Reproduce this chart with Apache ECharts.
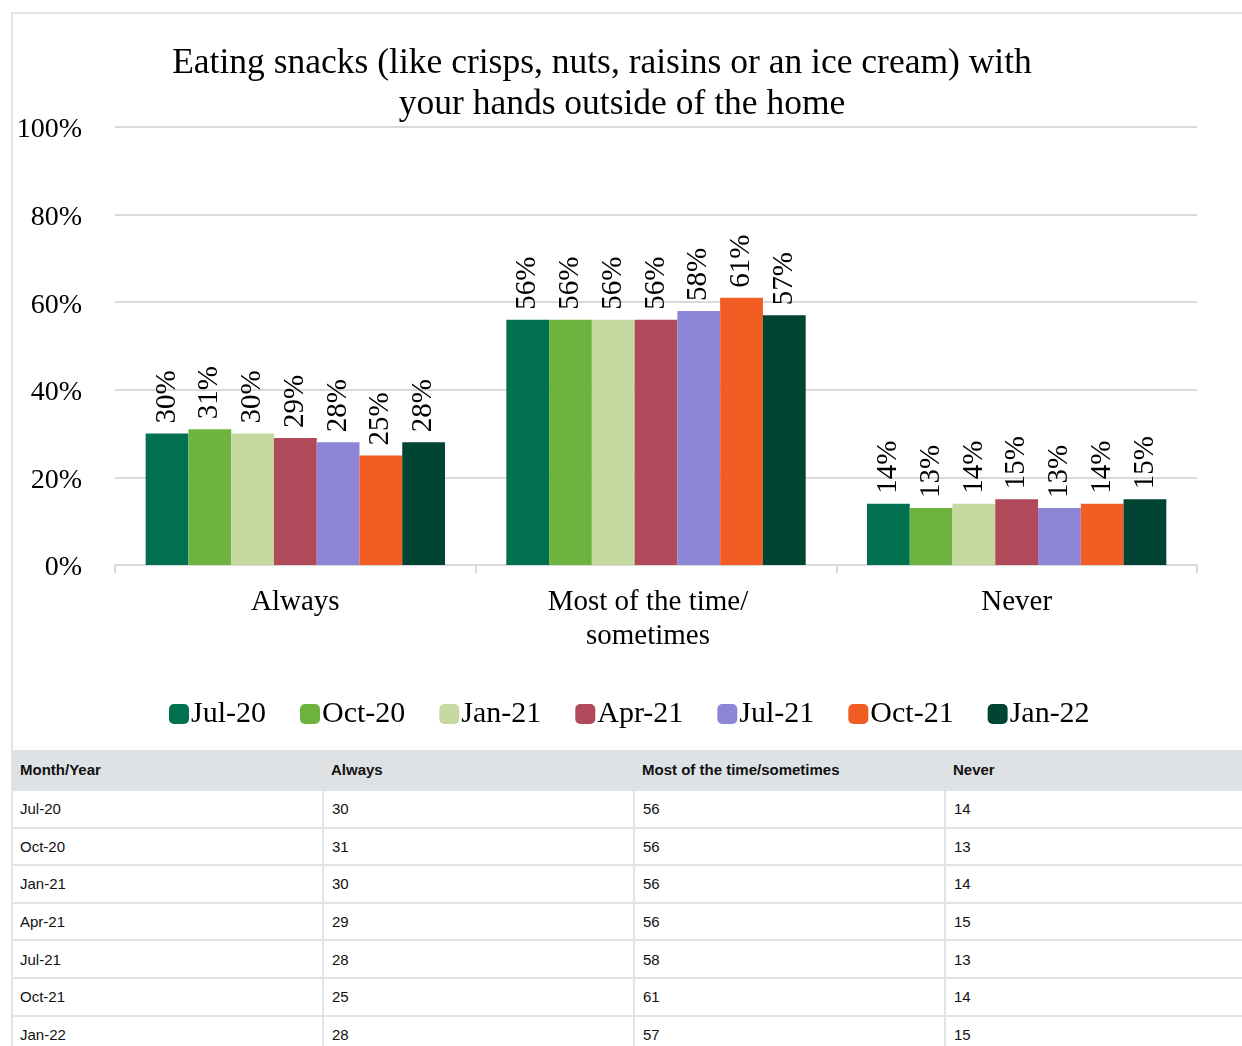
<!DOCTYPE html>
<html>
<head>
<meta charset="utf-8">
<script src="https://cdn.jsdelivr.net/npm/echarts@6/dist/echarts.min.js"></script>
<style>
  html, body { margin:0; padding:0; background:#fff; overflow:hidden; width:1242px; height:1046px; }
  #frame { position:absolute; left:11px; top:12px; width:1250px; height:1100px; border:2px solid #e3e3e3; box-sizing:border-box; }
  #chart { position:absolute; left:0; top:0; width:1242px; height:750px; }
  #tbl { position:absolute; left:12px; top:750px; border-collapse:collapse; table-layout:fixed; width:1244px;
         font-family:"Liberation Sans", Arial, sans-serif; font-size:15px; color:#111; }
  #tbl th { background:#dfe2e5; font-weight:bold; text-align:left; height:40px; padding:0 0 0 8px; box-sizing:border-box; }
  #tbl td { height:37.6px; padding:0 0 0 8px; box-sizing:border-box; border-top:2px solid #e1e4e7; border-left:2px solid #e1e4e7; }
  #tbl td:first-child { border-left:none; }
</style>
</head>
<body>
<div id="frame"></div>
<div id="chart"></div>
<table id="tbl"></table>
<script>
// ---- data ----
var categories = ["Always", "Most of the time/sometimes", "Never"];
var months = ["Jul-20", "Oct-20", "Jan-21", "Apr-21", "Jul-21", "Oct-21", "Jan-22"];
var jul20 = [30, 56, 14];
var oct20 = [31, 56, 13];
var jan21 = [30, 56, 14];
var apr21 = [29, 56, 15];
var jul21 = [28, 58, 13];
var oct21 = [25, 61, 14];
var jan22 = [28, 57, 15];
var yTicks = [0, 20, 40, 60, 80, 100];
var titleLine1 = "Eating snacks (like crisps, nuts, raisins or an ice cream) with";
var titleLine2 = "your hands outside of the home";
var tableHeader = ["Month/Year", "Always", "Most of the time/sometimes", "Never"];

var seriesValues = [jul20, oct20, jan21, apr21, jul21, oct21, jan22];
var colors = ["#007050", "#6db33f", "#c5d9a0", "#b0495a", "#8d86d6", "#f15d22", "#004433"];

var serif = '"Liberation Serif", "Times New Roman", serif';

var chart = echarts.init(document.getElementById('chart'), null, {renderer:'canvas'});
var series = months.map(function(m, i){
  return {
    name: m, type: 'bar', data: seriesValues[i],
    barGap: '0%', barCategoryGap: '17%',
    itemStyle: { color: colors[i] },
    label: {
      show: true, position: 'top', rotate: 90, align: 'left', verticalAlign: 'middle', distance: 10,
      formatter: '{c}%', fontFamily: serif, fontSize: 29, color: '#000'
    }
  };
});
chart.setOption({
  animation: false,
  color: colors,
  title: [
    { text: titleLine1, left: 597, top: 41, textAlign: 'center',
      textStyle: { fontFamily: serif, fontSize: 35.5, fontWeight: 'normal', color: '#000' } },
    { text: titleLine2, left: 617, top: 82, textAlign: 'center',
      textStyle: { fontFamily: serif, fontSize: 35.5, fontWeight: 'normal', color: '#000' } }
  ],
  legend: {
    data: months, left: 164, top: 694, itemWidth: 20, itemHeight: 20, itemGap: 34,
    icon: 'roundRect',
    textStyle: { fontFamily: serif, fontSize: 30, color: '#000', padding: [0,0,0,-3] }
  },
  grid: { left: 115, right: 45, top: 127, bottom: 185 },
  xAxis: {
    type: 'category', data: categories,
    axisLine: { show: true, lineStyle: { color: '#d9d9d9', width: 2 } },
    axisTick: { show: true, length: 8, lineStyle: { color: '#d9d9d9', width: 2 } },
    axisLabel: { fontFamily: serif, fontSize: 29, color: '#000', margin: 20, lineHeight: 34,
      formatter: function(v, idx){
        if (v.indexOf('/') >= 0) { return '{m|' + v.replace('/', '/}\n{m|') + '}'; }
        return v;
      },
      rich: { m: { fontFamily: serif, fontSize: 29, color: '#000', lineHeight: 34, padding: [0, 16, 0, 0] } }
    }
  },
  yAxis: {
    type: 'value', min: yTicks[0], max: yTicks[yTicks.length-1], interval: 20,
    axisLine: { show: false }, axisTick: { show: false },
    splitLine: { lineStyle: { color: '#d9d9d9', width: 2 } },
    axisLabel: { color: '#000', margin: 33,
      formatter: function(v){ return '{a|' + v + '%}'; },
      rich: { a: { fontFamily: serif, fontSize: 28, color: '#000', padding: [6, 0, 0, 0] } } }
  },
  series: series
});

// ---- table ----
var tbl = document.getElementById('tbl');
var html = '<tr>' + tableHeader.map(function(h){ return '<th>' + h + '</th>'; }).join('') + '</tr>';
months.forEach(function(m, i){
  html += '<tr><td>' + m + '</td>' + seriesValues[i].map(function(v){ return '<td>' + v + '</td>'; }).join('') + '</tr>';
});
tbl.innerHTML = html;
</script>
</body>
</html>
